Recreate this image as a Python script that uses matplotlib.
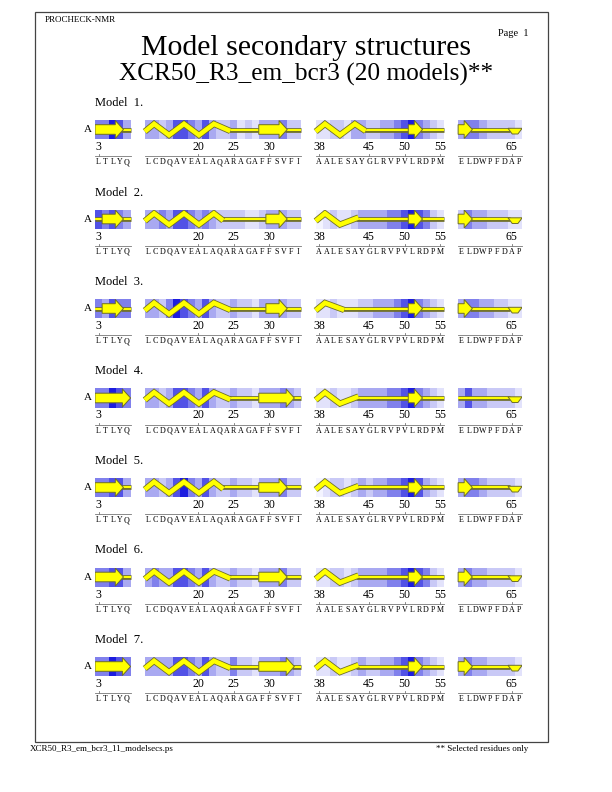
import numpy as np
import matplotlib
matplotlib.use('Agg')
import matplotlib.pyplot as plt
from matplotlib.patches import Polygon, Rectangle
import matplotlib.patheffects as pe

plt.rcParams['font.family'] = ['Liberation Serif', 'DejaVu Serif']

# residue ranges shown (selected residues only) and their sequence
segments = [(3, 7), (13, 34), (38, 55), (58, 66)]
sequence = ['LTLYQ', 'LCDQAVEALAQARAGAFFSVFI', 'AALESAYGLRVPVLRDPM', 'ELDWPFDAP']
tick_residues = [3, 20, 25, 30, 38, 45, 50, 55, 65]

model_labels = ['Model  1.', 'Model  2.', 'Model  3.', 'Model  4.',
                'Model  5.', 'Model  6.', 'Model  7.']

# secondary structure per model: E strand, H helix, T turn, - coil
ss_models = [
    ['EEEE-', 'HHHHHHHHHHHH----EEEE--', 'HHHHHHH------EE---', 'EE-----TT'],
    ['-EEE-', 'HHHHHHHHHHH------EEE--', 'HHHHHH-------EE---', 'EE-----TT'],
    ['-EEE-', 'HHHHHHHHHHHH-----EEE--', 'HHHH---------EE---', 'EE-----TT'],
    ['EEEEE', 'HHHHHHHHHHHH----EEEEE-', 'HHHHHH-------EE---', '-------TT'],
    ['EEEE-', 'HHHHHHHHHHH-----EEEE--', 'HHHHHH-------EE---', 'EE-----TT'],
    ['EEEE-', 'HHHHHHHHHHHH----EEEE--', 'HHHHHH-------EE---', 'EE-----TT'],
    ['EEEEE', 'HHHHHHHHHHHH----EEEEE-', 'HHHHHH-------EE---', 'EE-----TT'],
]

# background shading level (0 light .. 6 dark blue) per residue
shade_models = [
    [[4, 4, 6, 5, 3],
     [3, 3, 2, 3, 5, 5, 4, 3, 5, 3, 2, 2, 3, 1, 2, 1, 3, 3, 3, 4, 2, 2],
     [1, 1, 2, 2, 1, 3, 3, 2, 2, 3, 3, 4, 5, 6, 4, 3, 2, 1],
     [3, 4, 4, 3, 2, 2, 2, 2, 1]],
    [[5, 4, 5, 4, 3],
     [3, 3, 4, 3, 5, 5, 4, 3, 4, 3, 2, 2, 2, 2, 1, 1, 2, 3, 3, 3, 2, 2],
     [0, 1, 2, 1, 1, 2, 3, 3, 3, 3, 4, 4, 5, 6, 5, 4, 2, 1],
     [2, 4, 3, 3, 2, 2, 2, 1, 1]],
    [[4, 3, 5, 4, 4],
     [3, 3, 2, 4, 6, 5, 4, 3, 5, 3, 2, 2, 3, 2, 2, 1, 3, 3, 3, 3, 2, 2],
     [1, 1, 2, 1, 1, 1, 2, 2, 3, 3, 3, 4, 5, 6, 4, 3, 2, 1],
     [3, 4, 4, 3, 3, 2, 2, 1, 1]],
    [[4, 4, 6, 5, 4],
     [3, 3, 2, 3, 5, 5, 4, 3, 5, 3, 2, 2, 3, 2, 2, 1, 3, 3, 3, 4, 3, 2],
     [1, 1, 2, 1, 1, 2, 3, 3, 3, 3, 4, 4, 5, 6, 4, 3, 2, 1],
     [3, 5, 3, 3, 2, 2, 2, 2, 1]],
    [[4, 4, 5, 5, 3],
     [3, 3, 2, 3, 5, 6, 4, 3, 5, 3, 2, 2, 3, 2, 2, 1, 3, 3, 3, 4, 2, 2],
     [0, 1, 2, 2, 1, 2, 3, 2, 3, 3, 4, 4, 5, 6, 5, 3, 2, 1],
     [3, 4, 4, 3, 2, 2, 2, 2, 1]],
    [[4, 4, 5, 5, 3],
     [3, 4, 3, 3, 5, 5, 4, 3, 5, 3, 2, 2, 3, 2, 2, 1, 3, 3, 3, 4, 2, 2],
     [1, 1, 2, 2, 1, 2, 3, 3, 3, 3, 4, 4, 5, 6, 5, 4, 2, 1],
     [3, 4, 3, 3, 2, 2, 2, 2, 1]],
    [[4, 4, 6, 5, 4],
     [3, 3, 3, 3, 5, 5, 4, 3, 5, 3, 2, 2, 4, 2, 2, 1, 3, 3, 3, 4, 3, 2],
     [1, 1, 2, 1, 1, 2, 3, 2, 2, 3, 3, 4, 5, 6, 4, 3, 2, 1],
     [3, 4, 3, 3, 2, 2, 2, 2, 1]],
]

shade_colors = ['#f4f4ff', '#e2e2fb', '#c9c9f6', '#a9a9f1', '#8080ec', '#5252e6', '#1c1cdf']
YELLOW = '#ffff00'
EDGE = '#6e6e2a'

fig = plt.figure(figsize=(6.12, 7.92), dpi=100)
W, H = 612, 792

# page frame and header / footer
fig.patches.append(Rectangle((35 / W, 1 - 742 / H), 513 / W, 730 / H, transform=fig.transFigure,
                             fill=False, edgecolor='#444444', linewidth=0.9))
fig.text(45 / W, 1 - 20 / H, 'PROCHECK-NMR', fontsize=6.5, va='center')
fig.text(528 / W, 1 - 33 / H, 'Page  1', fontsize=7.5, va='center', ha='right')
fig.text(0.5, 1 - 48 / H, 'Model secondary structures', fontsize=21.5, ha='center', va='center')
fig.text(0.5, 1 - 74 / H, 'XCR50_R3_em_bcr3 (20 models)**', fontsize=18.2, ha='center', va='center')
fig.text(30 / W, 1 - 749 / H, 'XCR50_R3_em_bcr3_11_modelsecs.ps', fontsize=6.5, va='center')
fig.text(528 / W, 1 - 749 / H, '** Selected residues only', fontsize=6.5, va='center', ha='right')

# x position (units) of the left edge of each segment; 2 units gap between segments
GAP = 2
seg_start = []
pos = 0
for a, b in segments:
    seg_start.append(pos)
    pos += (b - a + 1) + GAP
n_units = pos - GAP

UNIT = 7.12      # px per residue
STRIP = 19       # strip height in px
LEFT = 95
TOP0 = 120
STEP = 89.5

def xpos(res):
    for (a, b), s in zip(segments, seg_start):
        if a <= res <= b:
            return s + (res - a)
    return None

def runs(code):
    out = []
    i = 0
    while i < len(code):
        j = i
        while j < len(code) and code[j] == code[i]:
            j += 1
        out.append((code[i], i, j))
        i = j
    return out

stroke = [pe.Stroke(linewidth=3.4, foreground=EDGE), pe.Normal()]

for m in range(len(model_labels)):
    top = TOP0 + m * STEP
    ax = fig.add_axes([LEFT / W, 1 - (top + STRIP) / H, n_units * UNIT / W, STRIP / H])
    ax.set_xlim(0, n_units)
    ax.set_ylim(0, STRIP)
    ax.axis('off')
    mid = STRIP / 2

    ax.text(0, STRIP + 17, model_labels[m], fontsize=9, va='center', ha='left', clip_on=False)
    ax.text(-1.0, mid, 'A', fontsize=8, va='center', ha='center', clip_on=False)

    for k, (a, b) in enumerate(segments):
        s = seg_start[k]
        L = b - a + 1
        levels = shade_models[m][k]
        ax.bar(np.arange(L) + s, STRIP, width=1, bottom=0, align='edge',
               color=[shade_colors[v] for v in levels], linewidth=0, zorder=1)

        # residue ruler below strip
        ax.plot([s, s + L], [-17, -17], color='#777777', lw=0.6, clip_on=False)
        for i, ch in enumerate(sequence[k]):
            ax.text(s + i + 0.5, -23, ch, fontsize=5.8, ha='center', va='center', clip_on=False)

        # secondary structure elements
        code = ss_models[m][k]
        for typ, i0, i1 in runs(code):
            x0, x1 = s + i0, s + i1
            if typ == '-':
                c0 = x0 - 0.3 if i0 > 0 else x0
                c1 = x1 + 0.3 if i1 < L else x1
                ax.plot([c0, c1], [mid, mid], color=YELLOW, lw=1.5,
                        solid_capstyle='butt', path_effects=stroke, zorder=2)
            elif typ == 'E':
                bh, hh, hl = 4.8, 9.0, 1.15
                pts = [(x0, mid - bh), (x1 - hl, mid - bh), (x1 - hl, mid - hh), (x1, mid),
                       (x1 - hl, mid + hh), (x1 - hl, mid + bh), (x0, mid + bh)]
                ax.add_patch(Polygon(pts, closed=True, facecolor=YELLOW, edgecolor=EDGE,
                                     lw=0.7, zorder=4))
            elif typ == 'H':
                xs = [x0]
                t = x0 + 1.3
                while t < x1 - 0.6:
                    xs.append(t)
                    t += 2.1
                xs.append(x1)
                ys = [mid - 2]
                for n in range(1, len(xs) - 1):
                    ys.append(mid + 5.6 if n % 2 == 1 else mid - 5.6)
                ys.append(mid - 1.5 if len(xs) % 2 == 1 else mid + 1.5)
                ax.plot(xs, ys, color=YELLOW, lw=3.3, solid_joinstyle='miter',
                        solid_capstyle='butt', zorder=3,
                        path_effects=[pe.Stroke(linewidth=4.5, foreground=EDGE), pe.Normal()])
            elif typ == 'T':
                pts = [(x0, mid + 1.2), (x0 + 0.6, mid - 4.5), (x1 - 0.6, mid - 4.5), (x1, mid + 1.2)]
                ax.add_patch(Polygon(pts, closed=True, facecolor=YELLOW, edgecolor=EDGE,
                                     lw=0.7, zorder=4))

    for r in tick_residues:
        x = xpos(r) + 0.5
        ax.text(x, -8, str(r), fontsize=8.5, ha='center', va='center', clip_on=False)
        ax.plot([x, x], [-15, -17], color='#777777', lw=0.6, clip_on=False)

fig.savefig('out.png', dpi=100)
